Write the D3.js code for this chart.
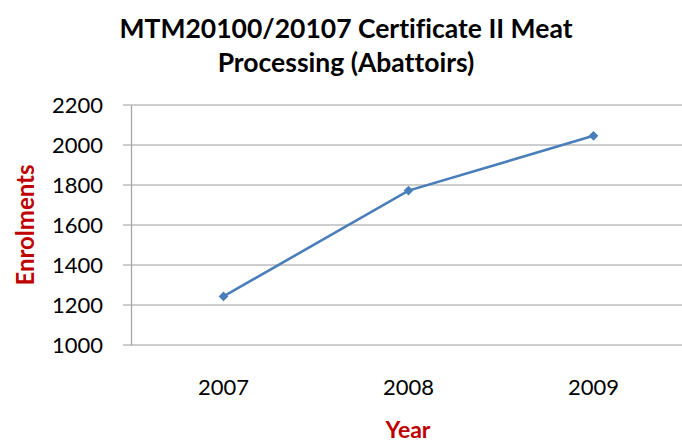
<!DOCTYPE html>
<html lang="en">
  <head>
    <meta charset="UTF-8" />
    <title>Enrolments</title>
    <style>
      body { margin: 0; background: #fff; }
      text { font-family: Lato, 'Open Sans', sans-serif; font-variant-ligatures: none; }
    </style>
  </head>
  <body>
    <div id="main"></div>
    <script src="https://cdn.jsdelivr.net/npm/d3@7"></script>
    <script>
      const years = ['2007', '2008', '2009']
      const enrolments = [1243, 1772, 2046]
      const yTicks = [1000, 1200, 1400, 1600, 1800, 2000, 2200]
      const titleLines = ['MTM20100/20107 Certificate II Meat', 'Processing (Abattoirs)']

      const [width, height] = [682, 444]
      const plot = { left: 131, right: 686, top: 105, bottom: 345 }

      const svg = d3.select('#main')
        .append('svg')
        .attr('width', width)
        .attr('height', height)

      const xScale = d3.scaleBand().domain(years).range([plot.left, plot.right])
      const yScale = d3.scaleLinear().domain([1000, 2200]).range([plot.bottom, plot.top])

      // gridlines
      svg.append('g')
        .selectAll('line')
        .data(yTicks)
        .join('line')
        .attr('x1', plot.left - 8)
        .attr('x2', plot.right)
        .attr('y1', d => yScale(d))
        .attr('y2', d => yScale(d))
        .attr('stroke', '#bdbdbd')
        .attr('stroke-width', 1.3)

      // y axis
      const yAxis = svg.append('g')
        .attr('transform', `translate(${plot.left}, 0)`)
        .call(d3.axisLeft(yScale).tickValues(yTicks).tickSize(0).tickPadding(28).tickFormat(d3.format('d')))
      yAxis.select('.domain').attr('stroke', '#a6a6a6').attr('stroke-width', 1.3)
      yAxis.selectAll('text').style('font-size', '22px').attr('fill', '#000').attr('dy', '0.36em')

      // x axis
      const xAxis = svg.append('g')
        .attr('transform', `translate(0, ${plot.bottom})`)
        .call(d3.axisBottom(xScale).tickSize(0).tickPadding(34))
      xAxis.select('.domain').remove()
      xAxis.selectAll('text').style('font-size', '22px').attr('fill', '#000')

      // line
      const line = d3.line()
        .x((d, i) => xScale(years[i]) + xScale.bandwidth() / 2)
        .y(d => yScale(d))
      svg.append('path')
        .datum(enrolments)
        .attr('d', line)
        .attr('fill', 'none')
        .attr('stroke', '#4a7ebb')
        .attr('stroke-width', 2.6)

      svg.append('g')
        .selectAll('path')
        .data(enrolments)
        .join('path')
        .attr('d', d3.symbol(d3.symbolDiamond2, 60))
        .attr('transform', (d, i) => `translate(${xScale(years[i]) + xScale.bandwidth() / 2}, ${yScale(d)})`)
        .attr('fill', '#4a7ebb')

      // title
      svg.append('g')
        .selectAll('text')
        .data(titleLines)
        .join('text')
        .attr('x', 346)
        .attr('y', (d, i) => 38 + i * 34)
        .attr('text-anchor', 'middle')
        .style('font-size', '26.5px')
        .style('font-weight', 'bold')
        .text(d => d)

      svg.append('text')
        .attr('transform', 'translate(34, 225) rotate(-90)')
        .attr('text-anchor', 'middle')
        .style('font-size', '24px')
        .style('font-weight', 'bold')
        .attr('fill', '#c00000')
        .text('Enrolments')

      svg.append('text')
        .attr('x', 408)
        .attr('y', 438)
        .attr('text-anchor', 'middle')
        .style('font-size', '23px')
        .style('font-weight', 'bold')
        .attr('fill', '#c00000')
        .text('Year')
    </script>
  </body>
</html>
